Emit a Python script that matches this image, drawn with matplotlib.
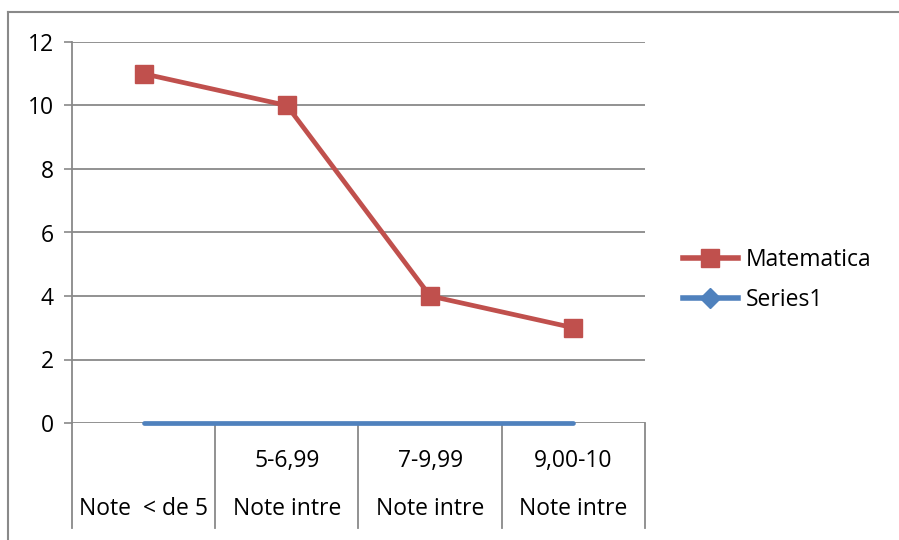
import matplotlib.pyplot as plt
from matplotlib.lines import Line2D

# data
categories_top = ["", "5-6,99", "7-9,99", "9,00-10"]
categories_bottom = ["Note  < de 5", "Note intre", "Note intre", "Note intre"]
matematica = [11, 10, 4, 3]
series1 = [0, 0, 0, 0]
yticks = [0, 2, 4, 6, 8, 10, 12]

red = "#C0504D"
blue = "#4F81BD"
grey = "#898989"
font = "Open Sans"
fs = 16.5

fig = plt.figure(figsize=(8.99, 5.40), dpi=100)
ax = fig.add_axes([72 / 899, 1 - 423 / 540, (645 - 72) / 899, (423 - 42) / 540])

x = list(range(len(matematica)))
ax.plot(x, matematica, color=red, lw=3.4, marker="s", ms=13.5, zorder=4)
ax.plot(x, series1, color=blue, lw=3.4, zorder=5, clip_on=False, solid_capstyle="round")

ax.set_xlim(-0.5, len(x) - 0.5)
ax.set_ylim(0, 12)
ax.set_yticks(yticks)
ax.set_yticklabels([str(v) for v in yticks], fontsize=fs, family=font)
ax.tick_params(axis="y", length=6, width=1.2, color=grey, pad=7)
ax.set_xticks([])
ax.grid(axis="y", color=grey, lw=1.3)
ax.set_axisbelow(True)
for s in ["top", "right", "bottom"]:
    ax.spines[s].set_visible(False)
ax.spines["left"].set_color(grey)
ax.spines["left"].set_linewidth(1.3)

# category separators extending below the axis
trans = ax.get_xaxis_transform()
depth = -(528 - 423) / (423 - 42)
for b in [i - 0.5 for i in range(len(x) + 1)]:
    ax.plot([b, b], [0, depth], transform=trans, color=grey, lw=1.3, clip_on=False)

for i in x:
    ax.text(i, -(461 - 423) / 381, categories_top[i], transform=trans, ha="center",
            va="center", fontsize=fs, family=font)
    ax.text(i, -(509 - 423) / 381, categories_bottom[i], transform=trans, ha="center",
            va="center", fontsize=fs, family=font)

# legend
handles = [
    Line2D([], [], color=red, lw=4, marker="s", ms=13),
    Line2D([], [], color=blue, lw=4, marker="D", ms=10),
]
fig.legend(handles, ["Matematica", "Series1"], loc="center left",
           bbox_to_anchor=(662 / 899, 1 - 280 / 540), frameon=False,
           prop={"family": font, "size": fs}, handlelength=2.4, handletextpad=0.35,
           labelspacing=0.72)

# outer chart border
fig.add_artist(Line2D([8 / 899, 1], [1 - 12 / 540] * 2, color=grey, lw=1.5))
fig.add_artist(Line2D([8 / 899] * 2, [1 - 12 / 540, 0], color=grey, lw=1.5))

fig.savefig("out.png", dpi=100)
